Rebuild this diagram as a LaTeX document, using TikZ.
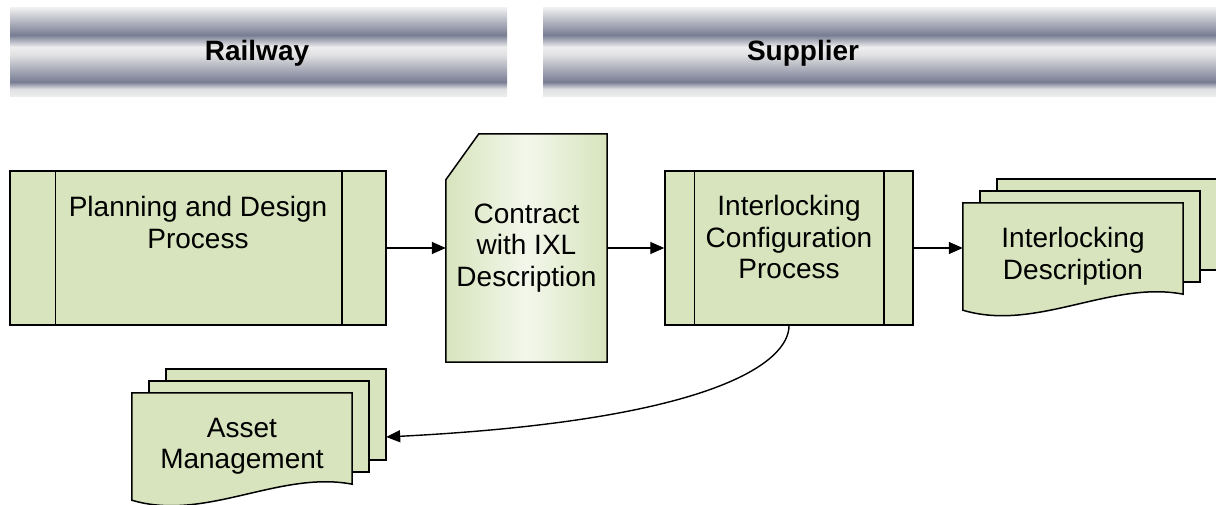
\documentclass[tikz,border=0pt]{standalone}
\usepackage{fontspec}
\setmainfont{Liberation Sans}
\usetikzlibrary{arrows.meta,positioning}
\definecolor{docgreen}{HTML}{D7E4BD}
\definecolor{barlight}{HTML}{EEEEEE}
\definecolor{bardark}{HTML}{787D93}
\colorlet{barmid}{barlight!88!bardark}
\pgfdeclareverticalshading{lanebar}{100bp}{color(0bp)=(barlight); color(25bp)=(barlight);
  color(29.5bp)=(barmid); color(33.4bp)=(bardark); color(48.6bp)=(barmid);
  color(53.1bp)=(barlight); color(59.8bp)=(bardark); color(75bp)=(barlight);
  color(100bp)=(barlight)}
\pgfdeclarelayer{background}
\pgfsetlayers{background,main}

% three stacked sheets behind a document node
\newcommand{\sheetstack}[1]{%
  \draw[sheet] ([shift={(34pt,24pt)}]#1.north west) rectangle ([shift={(34pt,40pt)}]#1.south east);
  \draw[sheet] ([shift={(17pt,12pt)}]#1.north west) rectangle ([shift={(17pt,28pt)}]#1.south east);
  \draw[sheet] (#1.north west) -- (#1.north east) -- ([yshift=16pt]#1.south east)
    .. controls ([shift={(-73pt,30pt)}]#1.south east) and ([shift={(-147pt,-22pt)}]#1.south east)
    .. (#1.south west) -- cycle;
}

\begin{document}
\begin{tikzpicture}[x=1pt,y=-1pt,
    font=\fontsize{28}{31.5}\selectfont,
    lane/.style={shade,shading=lanebar,minimum height=89pt,inner sep=0pt},
    lanetext/.style={inner sep=0pt,font=\fontsize{28}{32}\selectfont\bfseries},
    procbox/.style={draw,fill=docgreen,line width=1.5pt,minimum height=154pt,inner sep=0pt},
    txt/.style={align=center,inner sep=0pt},
    docnode/.style={minimum width=220pt,minimum height=107pt,inner sep=0pt,align=center},
    sheet/.style={draw,fill=docgreen,line width=1.5pt},
    flow/.style={-{Triangle[length=14pt,width=12pt]},line width=1.4pt}
  ]
    \useasboundingbox (0,0) rectangle (1216,505);

    %% swimlane headers
    \node[lane,minimum width=497pt] (railway) at (258.5,52.5) {};
    \node[lane,minimum width=673pt] (supplier) at (879.5,52.5) {};
    \node[lanetext] (raillabel) at (257,53) {Railway};
    \node[lanetext] (suplabel) at (803,53) {Supplier};

    %% process boxes
    \node[procbox,minimum width=376pt] (plan) at (198,248) {};
    \node[procbox,minimum width=248pt] (icp) at (789,248) {};
    \draw[line width=1.5pt]
      ([xshift=46pt]plan.north west) -- ([xshift=46pt]plan.south west)
      ([xshift=-45pt]plan.north east) -- ([xshift=-45pt]plan.south east)
      ([xshift=30pt]icp.north west) -- ([xshift=30pt]icp.south west)
      ([xshift=-30pt]icp.north east) -- ([xshift=-30pt]icp.south east);
    \node[txt,below=26pt of plan.north] (plantext) {Planning and Design\\Process};
    \node[txt,below=25pt of icp.north] (icptext) {Interlocking\\Configuration\\Process};

    %% documents
    \node[docnode,minimum width=161pt,minimum height=228pt] (contract) at (526.5,248)
      {Contract\\with IXL\\Description};
    \node[docnode] (idoc) at (1073,256.5) {Interlocking\\Description};
    \node[docnode] (asset) at (242,446.5) {Asset\\Management};
    \begin{pgfonlayer}{background}
      \draw[line width=1.5pt,left color=docgreen,right color=docgreen,middle color=docgreen!30]
        ([yshift=-46pt]contract.north west) -- ([xshift=33pt]contract.north west)
        -- (contract.north east) -- (contract.south east) -- (contract.south west) -- cycle;
      \sheetstack{idoc}
      \sheetstack{asset}
    \end{pgfonlayer}

    %% flow
    \draw[flow] (plan) -- (contract);
    \draw[flow] (contract.east) -- (contract.east -| icp.west);
    \draw[flow] (icp.east) -- (icp.east -| idoc.west);
    \draw[flow] (icp.south) .. controls +(0,-35pt) and +(333pt,17pt)
      .. ([shift={(34pt,9.5pt)}]asset.east);
\end{tikzpicture}
\end{document}
